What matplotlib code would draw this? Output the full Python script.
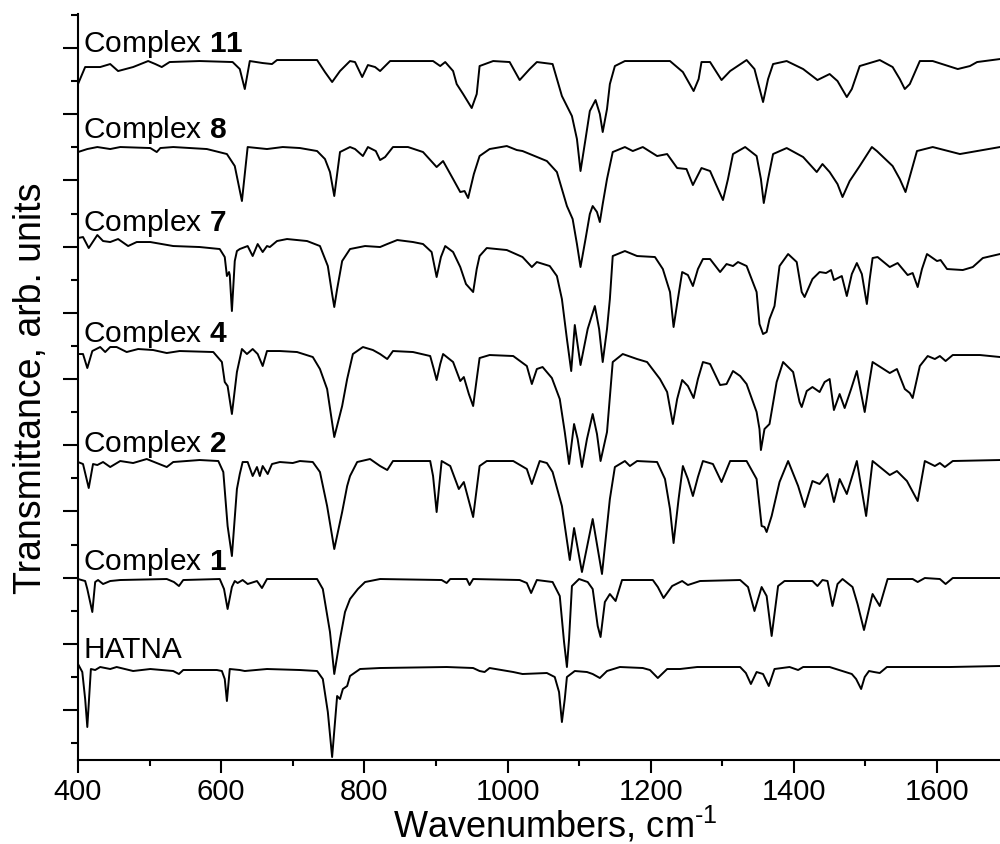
import matplotlib
matplotlib.use('Agg')
import matplotlib.pyplot as plt
from matplotlib.ticker import MultipleLocator

# IR spectra; t = transmittance relative to each trace's baseline (arb. units)
c11_wn = [400, 410, 431, 445, 456, 477, 498, 508, 517, 528, 570, 616, 626, 633, 640, 658, 671, 678, 734, 745,
          755, 766, 780, 787, 797, 805, 815, 822, 836, 896, 906, 913, 924, 929, 938, 950, 957, 961, 980, 1003,
          1017, 1031, 1041, 1063, 1076, 1090, 1097, 1102, 1109, 1115, 1123, 1129, 1133, 1139, 1143, 1150, 1164, 1227, 1245, 1260,
          1267, 1271, 1283, 1299, 1311, 1334, 1345, 1357, 1364, 1371, 1390, 1413, 1433, 1450, 1461, 1474, 1481, 1492, 1520, 1538,
          1548, 1555, 1562, 1576, 1594, 1629, 1646, 1656, 1688]
c11_t = [-23, -6, -6, -3, -10, -6, 0, -3, -6, -1, 0, -1, -8, -28, 0, -2, -3, 1, 1, -11,
         -21, -10, 0, -1, -16, -4, -6, -10, 0, 0, -5, -1, -10, -23, -33, -47, -33, -5, 0, -1,
         -19, -8, -1, -3, -35, -55, -78, -110, -78, -50, -39, -53, -71, -48, -23, -5, 0, 0, -11, -30,
         -18, -1, -1, -19, -10, 1, -8, -41, -18, -3, 0, -8, -19, -13, -20, -36, -28, -5, 1, -6,
         -18, -28, -23, 0, 0, -8, -5, -1, 2]

c8_wn = [400, 413, 427, 445, 459, 501, 510, 515, 533, 580, 608, 619, 629, 637, 664, 686, 710, 734, 745, 752,
         758, 766, 780, 787, 798, 805, 816, 822, 829, 840, 861, 882, 901, 910, 924, 934, 940, 945, 953, 961,
         975, 999, 1013, 1021, 1055, 1069, 1083, 1091, 1097, 1102, 1109, 1115, 1119, 1125, 1129, 1133, 1139, 1147, 1164, 1175,
         1189, 1209, 1223, 1237, 1250, 1259, 1271, 1283, 1291, 1301, 1308, 1315, 1332, 1348, 1354, 1358, 1364, 1371, 1390, 1413,
         1432, 1440, 1450, 1461, 1468, 1478, 1492, 1509, 1516, 1538, 1548, 1556, 1563, 1572, 1594, 1632, 1656, 1688]
c8_t = [-5, -2, 0, -2, 0, -1, -5, -1, 0, -2, -7, -19, -54, 0, -2, 0, -1, -4, -12, -25,
        -49, -5, 0, -2, -9, 0, -4, -13, -10, 0, 0, -5, -20, -14, -32, -45, -44, -51, -27, -9,
        -2, 1, -3, -4, -14, -25, -59, -72, -97, -120, -92, -67, -59, -65, -75, -57, -32, -5, 0, -4,
        0, -9, -7, -21, -22, -38, -21, -24, -37, -53, -32, -7, 0, -9, -32, -56, -32, -7, -1, -10,
        -25, -17, -25, -37, -50, -34, -19, 0, -4, -19, -32, -45, -27, -4, 0, -7, -4, 0]

c7_wn = [400, 407, 415, 427, 435, 445, 456, 470, 482, 501, 533, 570, 598, 605, 608, 611, 612, 615, 619, 622,
         626, 637, 644, 651, 658, 664, 668, 678, 692, 720, 738, 749, 755, 758, 762, 769, 780, 801, 822, 832,
         846, 868, 882, 894, 901, 907, 913, 924, 934, 942, 952, 957, 961, 971, 999, 1021, 1034, 1041, 1059, 1069,
         1076, 1083, 1089, 1094, 1102, 1112, 1122, 1128, 1133, 1139, 1143, 1147, 1164, 1181, 1206, 1217, 1227, 1232, 1238, 1244,
         1252, 1259, 1266, 1273, 1283, 1297, 1306, 1315, 1322, 1334, 1348, 1352, 1357, 1362, 1366, 1373, 1380, 1392, 1404, 1411,
         1415, 1426, 1436, 1445, 1452, 1456, 1467, 1474, 1481, 1488, 1495, 1502, 1506, 1510, 1517, 1534, 1545, 1559, 1566, 1573,
         1579, 1586, 1600, 1605, 1614, 1636, 1650, 1664, 1688]
c7_t = [2, 3, -8, 5, -1, -2, 1, -6, -2, -2, -6, -7, -9, -17, -36, -32, -35, -71, -21, -11,
        -9, -6, -16, -4, -12, -6, -7, -1, 1, -1, -6, -26, -54, -67, -49, -21, -9, -6, -7, -4,
        0, -2, -4, -12, -37, -17, -6, -12, -27, -44, -52, -29, -16, -8, -10, -17, -27, -22, -26, -36,
        -59, -99, -131, -85, -125, -89, -66, -89, -122, -89, -59, -16, -11, -16, -17, -29, -52, -87, -59, -32,
        -35, -46, -29, -19, -19, -32, -24, -26, -22, -26, -52, -84, -94, -92, -79, -66, -26, -14, -22, -52,
        -57, -39, -32, -33, -30, -40, -36, -56, -34, -23, -34, -64, -39, -18, -17, -27, -23, -35, -33, -47,
        -29, -14, -21, -20, -29, -30, -27, -18, -14]

c4_wn = [400, 407, 413, 420, 431, 438, 445, 454, 468, 484, 505, 524, 542, 589, 601, 605, 609, 615, 622, 629,
         636, 644, 651, 658, 664, 682, 706, 728, 738, 748, 758, 769, 776, 784, 798, 812, 822, 832, 840, 868,
         892, 897, 901, 906, 910, 924, 934, 939, 946, 952, 957, 961, 975, 1008, 1027, 1034, 1041, 1049, 1062, 1073,
         1080, 1086, 1093, 1098, 1104, 1111, 1119, 1125, 1130, 1139, 1147, 1161, 1181, 1195, 1213, 1223, 1231, 1237, 1244, 1252,
         1260, 1266, 1273, 1283, 1297, 1306, 1315, 1325, 1334, 1348, 1352, 1354, 1359, 1366, 1376, 1385, 1399, 1408, 1411, 1418,
         1426, 1436, 1443, 1450, 1456, 1464, 1471, 1480, 1488, 1499, 1505, 1510, 1534, 1544, 1555, 1562, 1566, 1576, 1587, 1597,
         1604, 1612, 1622, 1660, 1688]
c4_t = [-3, -3, -17, 0, 4, -1, 4, 4, -1, 2, 1, -2, 0, -1, -11, -31, -35, -63, -21, 2,
        -3, 2, -3, -15, 0, 0, -1, -6, -18, -38, -86, -55, -28, -3, 4, 1, -3, -8, 0, -1,
        -5, -18, -29, -13, -3, -11, -30, -26, -43, -55, -28, -7, -4, -5, -15, -33, -18, -16, -27, -48,
        -81, -113, -73, -88, -116, -88, -63, -83, -110, -81, -11, -3, -8, -11, -28, -41, -73, -48, -29, -35,
        -47, -28, -11, -13, -34, -33, -20, -25, -33, -61, -78, -99, -78, -73, -31, -11, -21, -51, -56, -40,
        -36, -41, -31, -28, -59, -43, -57, -38, -20, -61, -33, -11, -22, -18, -38, -42, -47, -15, -5, -8,
        -5, -10, -4, -4, -6]

c2_wn = [400, 407, 415, 421, 427, 435, 445, 459, 477, 496, 524, 533, 570, 596, 603, 609, 615, 622, 626, 630,
         637, 644, 650, 654, 658, 665, 671, 682, 700, 710, 728, 738, 748, 758, 769, 776, 780, 790, 808, 822,
         832, 840, 892, 896, 901, 908, 920, 932, 939, 952, 961, 971, 1008, 1027, 1034, 1045, 1055, 1063, 1076, 1087,
         1093, 1104, 1119, 1132, 1143, 1150, 1164, 1171, 1181, 1209, 1220, 1227, 1232, 1239, 1245, 1252, 1259, 1266, 1273, 1287,
         1299, 1311, 1334, 1348, 1355, 1359, 1362, 1369, 1380, 1392, 1406, 1415, 1426, 1436, 1447, 1456, 1464, 1474, 1488, 1501,
         1510, 1534, 1544, 1558, 1573, 1583, 1597, 1604, 1611, 1622, 1688]
c2_t = [-1, -3, -27, -3, -4, -1, -6, 0, -2, 2, -6, -1, 1, 0, -11, -65, -95, -28, -13, -1,
        -1, -15, -6, -15, -5, -13, -3, -1, -2, 0, -1, -11, -45, -88, -51, -25, -15, -1, 2, -5,
        -9, 0, 0, -15, -51, 0, -5, -28, -21, -56, -5, 0, 0, -8, -23, 0, -2, -11, -45, -99,
        -67, -111, -58, -113, -38, -6, 0, -5, 0, -1, -18, -48, -82, -38, -5, -18, -35, -16, 0, -3,
        -21, 0, 0, -18, -65, -66, -71, -55, -21, 0, -25, -46, -20, -23, -13, -41, -18, -33, 0, -55,
        0, -14, -10, -20, -40, 0, -5, -2, -6, 0, 1]

c1_wn = [400, 410, 413, 420, 424, 428, 435, 445, 459, 524, 534, 541, 547, 598, 604, 609, 615, 619, 623, 630,
         637, 650, 657, 664, 734, 742, 752, 758, 766, 773, 780, 791, 801, 822, 908, 915, 920, 943, 947, 952,
         1017, 1027, 1033, 1041, 1063, 1073, 1079, 1083, 1086, 1090, 1100, 1112, 1119, 1126, 1130, 1136, 1143, 1151, 1160, 1203,
         1210, 1218, 1230, 1244, 1252, 1269, 1325, 1336, 1345, 1355, 1362, 1369, 1378, 1387, 1426, 1433, 1440, 1447, 1454, 1461,
         1468, 1482, 1489, 1498, 1505, 1510, 1520, 1531, 1566, 1573, 1583, 1604, 1612, 1622, 1688]
c1_t = [0, -2, -10, -33, -3, -1, -5, -2, -1, 0, -3, -7, -1, 0, -10, -30, -8, -2, -4, -1,
        -5, -2, -9, 0, 0, -10, -53, -95, -60, -33, -20, -10, -3, 0, -1, -4, 0, 0, -6, 0,
        -1, -4, -14, -1, -3, -17, -63, -88, -60, -7, 0, -3, -10, -47, -58, -23, -15, -22, -1, -1,
        -8, -19, -7, -2, -6, -2, -1, -8, -32, -8, -17, -57, -7, -2, -2, -7, -1, -2, -27, -5,
        0, -8, -25, -51, -30, -15, -27, 0, 0, -3, 1, 0, -5, 1, 1]

hatna_wn = [400, 406, 410, 413, 415, 418, 424, 431, 445, 454, 477, 501, 533, 541, 547, 594, 601, 605, 608, 612,
            626, 633, 664, 710, 734, 742, 749, 755, 762, 766, 770, 776, 780, 794, 822, 915, 952, 961, 968, 975,
            1008, 1021, 1055, 1066, 1072, 1076, 1080, 1083, 1094, 1111, 1119, 1129, 1139, 1157, 1189, 1199, 1210, 1223, 1241, 1265,
            1325, 1333, 1340, 1348, 1357, 1365, 1373, 1394, 1406, 1413, 1450, 1481, 1487, 1494, 1499, 1505, 1512, 1520, 1530, 1618,
            1688]
hatna_t = [3, -5, -32, -60, -37, -2, -3, 0, -2, 0, -4, -2, -4, -7, -3, -3, -4, -12, -34, -2,
           -3, -4, -2, -3, -4, -12, -45, -90, -29, -32, -22, -19, -9, -2, -1, 0, -1, -4, -5, -1,
           -5, -7, -6, -10, -25, -55, -32, -10, -4, -5, -7, -11, -4, 0, -1, -3, -11, -2, -2, 0,
           0, -6, -17, -5, -7, -19, -2, 0, -3, 0, 0, -7, -12, -22, -10, -4, -5, -6, 0, 0,
           1]

labels = ['11', '8', '7', '4', '2', '1', None]
offsets = [649, 563, 470, 359, 249, 131, 43]


def main():
    plt.rcParams['font.family'] = ['Liberation Sans', 'DejaVu Sans']
    plt.rcParams['mathtext.fontset'] = 'custom'
    plt.rcParams['mathtext.rm'] = 'Liberation Sans'
    plt.rcParams['mathtext.bf'] = 'Liberation Sans:bold'

    spectra = [(c11_wn, c11_t), (c8_wn, c8_t), (c7_wn, c7_t), (c4_wn, c4_t),
               (c2_wn, c2_t), (c1_wn, c1_t), (hatna_wn, hatna_t)]

    fig = plt.figure(figsize=(10, 8.45), dpi=100)
    ax = fig.add_axes([0.078, 0.0994, 0.922, 0.8828])

    for (wn, t), off, lab in zip(spectra, offsets, labels):
        ax.plot(wn, [v + off for v in t], color='black', lw=1.4, solid_joinstyle='round')
        text = 'HATNA' if lab is None else 'Complex $\\mathbf{%s}$' % lab
        ax.text(407, off + 10, text, fontsize=21.5, va='baseline', ha='left')

    ax.set_xlim(400, 1688)
    ax.set_ylim(-50, 696)
    ax.xaxis.set_major_locator(MultipleLocator(200))
    ax.xaxis.set_minor_locator(MultipleLocator(100))
    ax.yaxis.set_major_locator(MultipleLocator(66.2))
    ax.yaxis.set_minor_locator(MultipleLocator(33.1))

    ax.tick_params(axis='y', which='major', length=11, width=1.5, labelleft=False)
    ax.tick_params(axis='y', which='minor', length=5, width=1.5)
    ax.tick_params(axis='x', which='major', length=9, width=1.5, labelsize=21, pad=3)
    ax.tick_params(axis='x', which='minor', length=4.5, width=1.5)
    for side in ['top', 'right']:
        ax.spines[side].set_visible(False)
    for side in ['left', 'bottom']:
        ax.spines[side].set_linewidth(1.5)

    ax.set_xlabel('Wavenumbers, cm$^{\\text{-1}}$', fontsize=26)
    ax.xaxis.set_label_coords(0.518, -0.059)
    ax.set_ylabel('Transmittance, arb. units', fontsize=27, labelpad=10)

    fig.savefig('out.png', dpi=100)


if __name__ == '__main__':
    main()
